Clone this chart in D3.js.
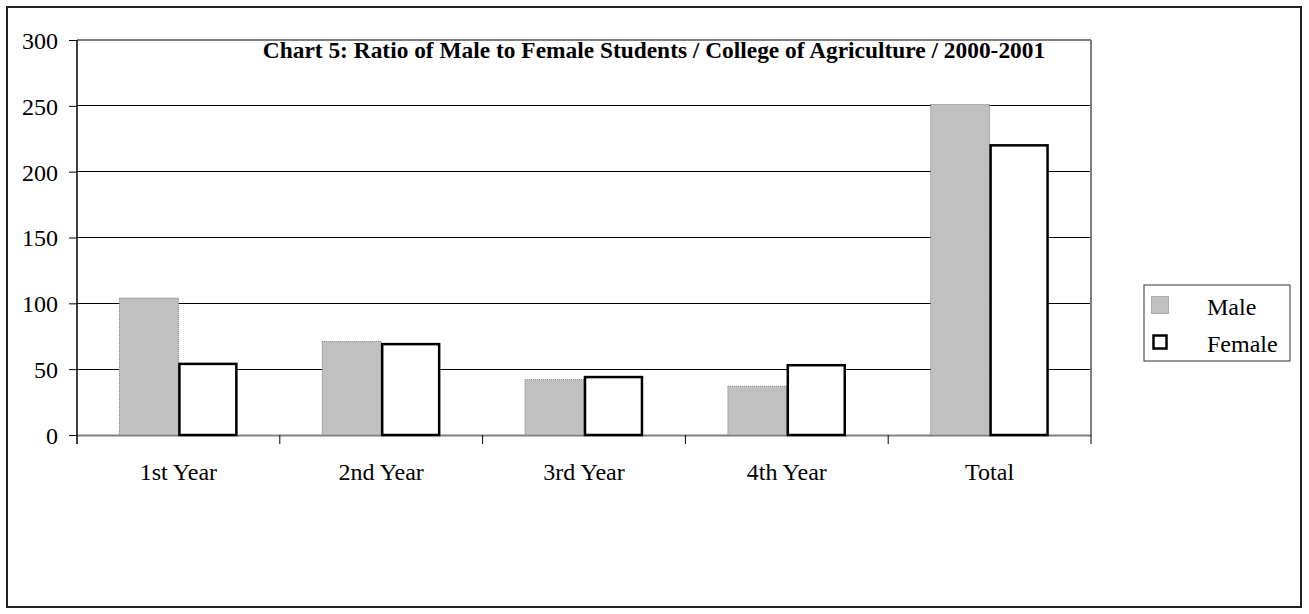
<!DOCTYPE html>
<html>
<head>
<meta charset="utf-8">
<script src="https://cdn.jsdelivr.net/npm/d3@7/dist/d3.min.js"></script>
<style>
  html, body { margin: 0; padding: 0; background: #fff; }
  svg { display: block; }
  svg text { font-family: 'Liberation Serif', 'Times New Roman', serif !important; fill: #000; }
</style>
</head>
<body>
<svg id="chart" width="1309" height="614" font-family="Liberation Serif, serif"></svg>
<script>
const categories = ["1st Year", "2nd Year", "3rd Year", "4th Year", "Total"];
const seriesNames = ["Male", "Female"];
const maleValues = [104, 71, 42, 37, 251];
const femaleValues = [54, 69, 44, 53, 220];
const yTicks = [0, 50, 100, 150, 200, 250, 300];
const titleText = "Chart 5: Ratio of Male to Female Students / College of Agriculture / 2000-2001";

const SERIF = "'Liberation Serif', 'Times New Roman', serif";
const svg = d3.select("#chart");
const plot = { left: 77, top: 40, right: 1091, bottom: 435 };

// outer border
svg.append("rect").attr("x", 7).attr("y", 7).attr("width", 1294).attr("height", 600)
  .attr("fill", "#fff").attr("stroke", "#222").attr("stroke-width", 2);

const y = d3.scaleLinear().domain([0, 300]).range([plot.bottom, plot.top]);
const x0 = d3.scaleBand().domain(categories).range([plot.left, plot.right]).paddingInner(0).paddingOuter(0);
const x1 = d3.scaleBand().domain(seriesNames).range([0, x0.bandwidth()]).paddingInner(0).paddingOuter(0.72);

// gridlines
svg.append("g").selectAll("line").data(yTicks.filter(t => t > 0 && t < 300)).join("line")
  .attr("x1", plot.left).attr("x2", plot.right)
  .attr("y1", d => y(d)).attr("y2", d => y(d))
  .attr("stroke", "#000").attr("stroke-width", 1).attr("shape-rendering", "crispEdges");

// plot area border (top & right gray)
svg.append("line").attr("x1", plot.left).attr("x2", plot.right).attr("y1", y(300)).attr("y2", y(300))
  .attr("stroke", "#808080").attr("stroke-width", 2);
svg.append("line").attr("x1", plot.right).attr("x2", plot.right).attr("y1", plot.top).attr("y2", plot.bottom)
  .attr("stroke", "#808080").attr("stroke-width", 2);

// bottom axis baseline (gray)
svg.append("line").attr("x1", plot.left).attr("x2", plot.right).attr("y1", y(0) + 0.5).attr("y2", y(0) + 0.5)
  .attr("stroke", "#808080").attr("stroke-width", 2);

// bars
const data = categories.map((c, i) => ({ cat: c, vals: [
  { s: "Male", v: maleValues[i] }, { s: "Female", v: femaleValues[i] } ] }));

const groups = svg.append("g").selectAll("g").data(data).join("g")
  .attr("transform", d => `translate(${x0(d.cat)},0)`);

groups.selectAll("rect").data(d => d.vals).join("rect")
  .attr("x", d => x1(d.s) + (d.s === "Female" ? 1 : 0))
  .attr("y", d => y(d.v))
  .attr("width", d => x1.bandwidth() - (d.s === "Female" ? 2 : 0))
  .attr("height", d => y(0) - y(d.v))
  .attr("fill", d => d.s === "Male" ? "#c0c0c0" : "#fff")
  .attr("stroke", d => d.s === "Male" ? "#7a7a7a" : "#000")
  .attr("stroke-width", d => d.s === "Male" ? 1 : 2.5)
  .attr("stroke-dasharray", d => d.s === "Male" ? "1,1" : null);

// x axis labels
const xAxis = d3.axisBottom(x0).tickSize(0).tickPadding(0);
const xa = svg.append("g").attr("transform", `translate(0,${plot.bottom})`).call(xAxis)
  .attr("font-family", SERIF).attr("font-size", 24);
xa.select(".domain").remove();
xa.selectAll("text").attr("dy", null).attr("y", 45)
  .attr("font-family", SERIF).style("font-family", SERIF).style("font-size", "24px");
// category boundary ticks
const boundaries = categories.map(c => x0(c)).slice(1).concat([plot.right]);
svg.append("g").selectAll("line").data(boundaries).join("line")
  .attr("x1", d => d).attr("x2", d => d).attr("y1", plot.bottom).attr("y2", plot.bottom + 9)
  .attr("stroke", "#000").attr("stroke-width", 1);

// left axis
const yAxis = d3.axisLeft(y).tickValues(yTicks).tickSize(8).tickPadding(11);
const ya = svg.append("g").attr("transform", `translate(${plot.left},0)`).call(yAxis)
  .attr("font-family", SERIF).attr("font-size", 24);
ya.select(".domain").attr("stroke", "#000").attr("stroke-width", 1.5).attr("d", `M0,${plot.top}V${plot.bottom + 9}`);
ya.selectAll(".tick line").attr("stroke", "#000").attr("stroke-width", 1);
ya.selectAll("text").attr("dy", "0.35em")
  .attr("font-family", SERIF).style("font-family", SERIF).style("font-size", "24px");

// title
svg.append("text").attr("x", 654).attr("y", 58).attr("text-anchor", "middle")
  .attr("font-family", SERIF).style("font-family", SERIF)
  .style("font-weight", "bold").style("font-size", "23.4px").text(titleText);

// legend
const lg = svg.append("g");
lg.append("rect").attr("x", 1144).attr("y", 285).attr("width", 146).attr("height", 76)
  .attr("fill", "#fff").attr("stroke", "#333").attr("stroke-width", 1);
const legendItems = [
  { name: seriesNames[0], yText: 315, fill: "#c0c0c0", stroke: "#7a7a7a", sw: 1, dash: "1,1", sx: 1151.5, sy: 296.5, ss: 17 },
  { name: seriesNames[1], yText: 352, fill: "#fff", stroke: "#000", sw: 2.5, dash: null, sx: 1153.5, sy: 335.5, ss: 13 }
];
legendItems.forEach(it => {
  lg.append("rect").attr("x", it.sx).attr("y", it.sy).attr("width", it.ss).attr("height", it.ss)
    .attr("fill", it.fill).attr("stroke", it.stroke).attr("stroke-width", it.sw).attr("stroke-dasharray", it.dash);
  lg.append("text").attr("x", 1207).attr("y", it.yText)
    .attr("font-family", SERIF).style("font-family", SERIF).style("font-size", "24px").text(it.name);
});
</script>
</body>
</html>
